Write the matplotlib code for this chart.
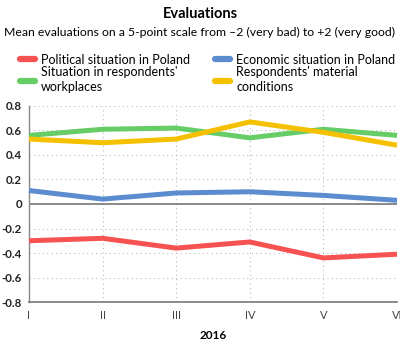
import matplotlib
matplotlib.use('Agg')
from matplotlib import pyplot as plt

plt.rcParams['font.family'] = ['Lato', 'DejaVu Sans']

# data
months = ['I', 'II', 'III', 'IV', 'V', 'VI']
political = [-0.30, -0.28, -0.36, -0.31, -0.44, -0.41]
economic = [0.11, 0.04, 0.09, 0.10, 0.07, 0.03]
workplace = [0.56, 0.61, 0.62, 0.54, 0.61, 0.56]
material = [0.53, 0.50, 0.53, 0.67, 0.585, 0.48]
series_labels = ['Political situation in Poland', 'Economic situation in Poland',
                 "Situation in respondents'\nworkplaces", "Respondents' material\nconditions"]
colors = ['#f75252', '#5b8ccf', '#66cc66', '#f5c000']
yticks = [-0.8, -0.6, -0.4, -0.2, 0, 0.2, 0.4, 0.6, 0.8]
ytick_labels = ['-0.8', '-0.6', '-0.4', '-0.2', '0', '0.2', '0.4', '0.6', '0.8']

fig = plt.figure(figsize=(4, 3.43), dpi=100)
ax = fig.add_axes([0.0725, 0.1195, 0.92, 0.5715])

x = list(range(len(months)))
lines = []
for vals, c in zip([political, economic, workplace, material], colors):
    ln, = ax.plot(x, vals, color=c, lw=3.6, solid_joinstyle='round', solid_capstyle='butt',
                  clip_on=False, zorder=3)
    lines.append(ln)

ax.set_xlim(0, 5)
ax.set_ylim(-0.8, 0.8)
ax.set_yticks(yticks)
ax.set_yticklabels(ytick_labels, fontsize=8.3, fontweight='bold', color='#222222')
ax.set_xticks(x)
ax.set_xticklabels(months, fontsize=8, color='#444444')
ax.tick_params(axis='both', length=0, pad=4)
ax.tick_params(axis='y', pad=5)
ax.tick_params(axis='x', pad=6)
ax.grid(True, color='#bbbbbb', linestyle=(0, (1, 3)), linewidth=0.8)
ax.axhline(0, color='#777777', lw=1.2, zorder=2)
for s in ['top', 'right']:
    ax.spines[s].set_visible(False)
ax.spines['left'].set_color('#888888')
ax.spines['bottom'].set_color('#777777')
ax.spines['left'].set_linewidth(1)
ax.spines['bottom'].set_linewidth(1.2)

ax.set_xlabel('2016', fontsize=8.5, fontweight='bold', labelpad=6)

fig.text(0.5, 0.960, 'Evaluations', ha='center', va='center', fontsize=10.5, fontweight='bold')
fig.text(0.5, 0.905, 'Mean evaluations on a 5-point scale from \u20132 (very bad) to +2 (very good)',
         ha='center', va='center', fontsize=8.8)

leg = fig.legend([lines[0], lines[2], lines[1], lines[3]],
                 [series_labels[0], series_labels[2], series_labels[1], series_labels[3]],
                 ncol=2, loc='upper left', bbox_to_anchor=(0.05, 0.843), frameon=False,
                 fontsize=9, handlelength=1.2, handletextpad=0.5, columnspacing=2.0,
                 labelspacing=0.05, borderaxespad=0, borderpad=0)
for t in leg.get_texts():
    t.set_linespacing(1.3)
for h in leg.legend_handles:
    h.set_linewidth(4.5)
    h.set_solid_capstyle('round')

fig.savefig('out.png', dpi=100)
